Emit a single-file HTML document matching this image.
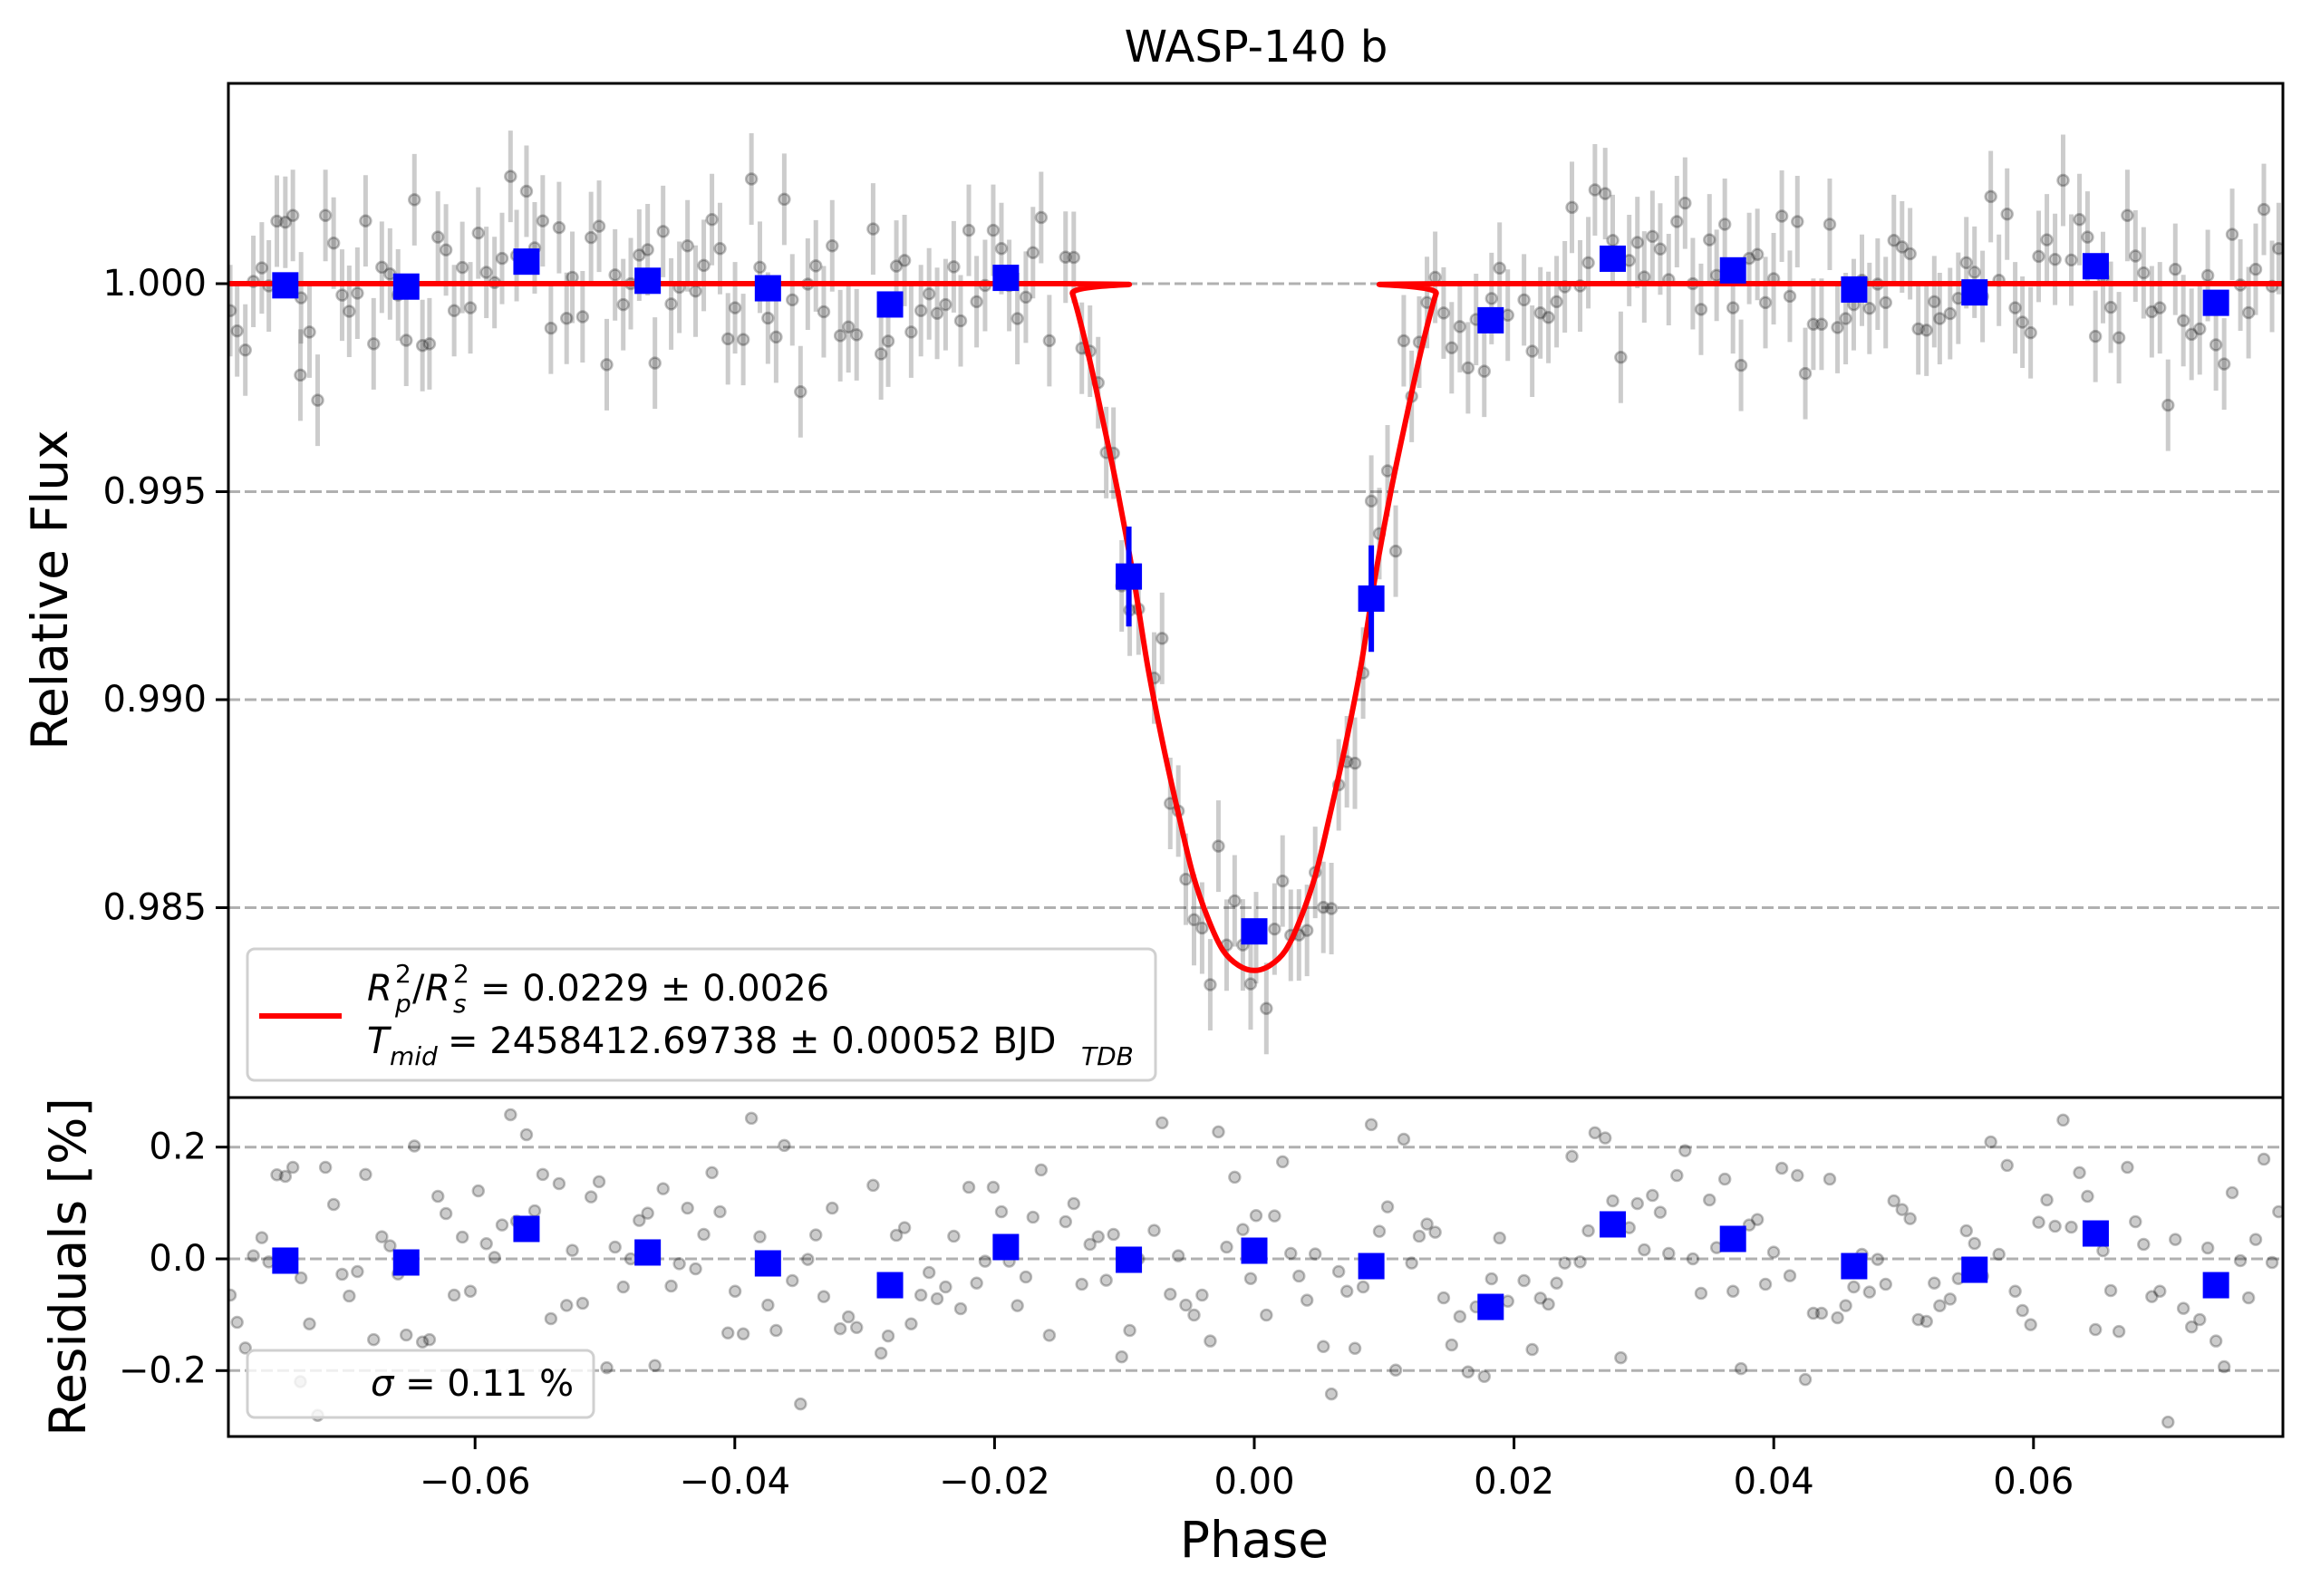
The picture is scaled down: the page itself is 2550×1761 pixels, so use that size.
<!DOCTYPE html>
<html><head><meta charset="utf-8"><title>WASP-140 b</title>
<style>html,body{margin:0;padding:0;background:#fff;}svg{display:block;font-family:"DejaVu Sans","Liberation Sans",sans-serif;}</style>
</head><body>
<svg id="fig" xmlns="http://www.w3.org/2000/svg" width="2550" height="1761" viewBox="0 0 2550 1761">
<rect x="0" y="0" width="2550" height="1761" fill="#fff"/>
<defs>
<clipPath id="clipTop"><rect x="252" y="92" width="2267" height="1119"/></clipPath>
<clipPath id="clipRes"><rect x="252" y="1211" width="2267" height="374"/></clipPath>
</defs>
<text x="1386" y="68" font-size="48" text-anchor="middle">WASP-140 b</text>
<g id="gridTop"></g>
<g id="gridRes"></g>
<g id="dataTop" clip-path="url(#clipTop)"></g>
<g id="dataRes" clip-path="url(#clipRes)"></g>
<g id="axes"></g>
<g>
<rect x="273" y="1047" width="1002" height="145" rx="8" fill="rgba(255,255,255,0.8)" stroke="#d0d0d0" stroke-width="3"/>
<line x1="286" y1="1121" x2="377" y2="1121" stroke="#ff0000" stroke-width="6"/>
<g font-size="40">
<text x="405" y="1104" font-style="italic">R</text>
<text x="436" y="1084" font-size="28">2</text>
<text x="436" y="1117" font-size="28" font-style="italic">p</text>
<text x="455" y="1104">/</text>
<text x="469" y="1104" font-style="italic">R</text>
<text x="500" y="1084" font-size="28">2</text>
<text x="500" y="1117" font-size="28" font-style="italic">s</text>
<text x="530" y="1104">= 0.0229 ± 0.0026</text>
</g>
<g font-size="40">
<text x="405" y="1162" font-style="italic">T</text>
<text x="430" y="1175" font-size="28" font-style="italic">mid</text>
<text x="494" y="1162">= 2458412.69738 ± 0.00052 BJD</text>
<text x="1193" y="1175" font-size="28" font-style="italic">TDB</text>
</g>
</g>
<g>
<rect x="273" y="1490" width="382" height="74" rx="8" fill="rgba(255,255,255,0.8)" stroke="#d0d0d0" stroke-width="3"/>
<text x="409" y="1540" font-size="40"><tspan font-style="italic">σ</tspan> = 0.11 %</text>
</g>
<text x="1384" y="1718" font-size="55" text-anchor="middle">Phase</text>
<text x="0" y="0" font-size="55" text-anchor="middle" dominant-baseline="central" transform="translate(55,651) rotate(-90)">Relative Flux</text>
<text x="0" y="0" font-size="55" text-anchor="middle" dominant-baseline="central" transform="translate(75,1398) rotate(-90)">Residuals [%]</text>
</svg>
<script>
const resPhase=[-0.07885,-0.07832,-0.07769,-0.07707,-0.07642,-0.07588,-0.07526,-0.07461,-0.07403,-0.07345,-0.07340,-0.07275,-0.07212,-0.07152,-0.07089,-0.07024,-0.06969,-0.06906,-0.06843,-0.06781,-0.06718,-0.06655,-0.06593,-0.06530,-0.06467,-0.06405,-0.06351,-0.06286,-0.06224,-0.06161,-0.06098,-0.06036,-0.05975,-0.05913,-0.05850,-0.05792,-0.05727,-0.05680,-0.05604,-0.05541,-0.05479,-0.05416,-0.05353,-0.05295,-0.05251,
-0.05172,-0.05107,-0.05045,-0.04986,-0.04922,-0.04859,-0.04801,-0.04736,-0.04671,-0.04615,-0.04552,-0.04490,-0.04427,-0.04364,-0.04302,-0.04239,-0.04176,-0.04114,-0.04053,-0.03998,-0.03935,-0.03872,-0.03807,-0.03745,-0.03682,-0.03619,-0.03557,-0.03494,-0.03438,-0.03376,-0.03315,-0.03250,-0.03188,-0.03125,-0.03062,-0.02935,-0.02874,-0.02819,-0.02756,-0.02693,-0.02642,
-0.02567,-0.02504,-0.02442,-0.02377,-0.02314,-0.02261,-0.02198,-0.02138,-0.02073,-0.02010,-0.01947,-0.01887,-0.01824,-0.01759,-0.01704,-0.01641,-0.01578,-0.01453,-0.01390,-0.01328,-0.01265,-0.01202,-0.01140,-0.01084,-0.01021,-0.00959,-0.00891,-0.00771,-0.00710,-0.00647,-0.00585,-0.00527,-0.00464,-0.00402,-0.00339,-0.00276,-0.00213,-0.00151,-0.00088,-0.00028,0.00014,
0.00093,0.00156,0.00218,0.00281,0.00344,0.00406,0.00469,0.00532,0.00594,0.00650,0.00713,0.00775,0.00838,0.00901,0.00963,0.01026,0.01089,0.01151,0.01212,0.01270,0.01330,0.01393,0.01458,0.01520,0.01583,0.01646,0.01708,0.01771,0.01827,0.01889,0.01952,0.02077,0.02140,0.02203,0.02265,0.02328,0.02391,0.02446,0.02509,0.02572,0.02623,
0.02702,0.02760,0.02822,0.02887,0.02950,0.03003,0.03066,0.03126,0.03191,0.03254,0.03317,0.03377,0.03440,0.03505,0.03560,0.03623,0.03686,0.03748,0.03811,0.03874,0.03936,0.03999,0.04062,0.04124,0.04182,0.04243,0.04305,0.04368,0.04431,0.04491,0.04554,0.04616,0.04679,0.04737,0.04800,0.04862,0.04925,0.04988,0.05050,0.05113,0.05176,0.05236,0.05278,
0.05358,0.05421,0.05483,0.05546,0.05608,0.05671,0.05734,0.05797,0.05859,0.05915,0.05978,0.06040,0.06103,0.06166,0.06228,0.06291,0.06354,0.06416,0.06477,0.06535,0.06595,0.06658,0.06723,0.06785,0.06848,0.06911,0.06973,0.07036,0.07092,0.07154,0.07217,0.07280,0.07342,0.07405,0.07468,0.07530,0.07593,0.07656,0.07711,0.07774,0.07837,0.07888];
const resValue=[-0.0649,-0.1136,-0.1596,0.0054,0.0379,-0.0054,0.1504,0.1477,0.1639,-0.2197,-0.0341,-0.1163,-0.2802,0.1639,0.0974,-0.0276,-0.0665,-0.0228,0.1510,-0.1445,0.0395,0.0233,-0.0271,-0.1363,0.2019,-0.1488,-0.1445,0.1120,0.0811,-0.0649,0.0390,-0.0579,0.1217,0.0271,0.0027,0.0606,0.2580,0.0676,0.2223,0.0860,0.1510,-0.1071,0.1347,-0.0833,0.0152,
-0.0795,0.1109,0.1380,-0.1948,0.0211,-0.0503,0.0000,0.0687,0.0817,-0.1910,0.1255,-0.0487,-0.0087,0.0909,-0.0179,0.0438,0.1542,0.0844,-0.1326,-0.0579,-0.1342,0.2516,0.0395,-0.0828,-0.1282,0.2029,-0.0390,-0.2597,-0.0011,0.0427,-0.0676,0.0909,-0.1250,-0.1039,-0.1228,0.1315,-0.1688,-0.1380,0.0422,0.0557,-0.1163,
-0.0649,-0.0244,-0.0714,-0.0503,0.0406,-0.0893,0.1282,-0.0433,-0.0043,0.1282,0.0844,-0.0043,-0.0838,-0.0325,0.0746,0.1591,-0.1369,0.0665,0.0990,-0.0455,0.0260,0.0395,-0.0384,0.0438,-0.1753,-0.1282,0.0000,0.0509,0.2435,-0.0633,0.0054,-0.0828,-0.1006,-0.0649,-0.1471,0.2272,0.0211,0.1461,0.0525,-0.0352,0.0774,
-0.1006,0.0768,0.1737,0.0097,-0.0308,-0.0741,0.0087,-0.1569,-0.2418,-0.0227,-0.0579,-0.1602,-0.0503,0.2402,0.0492,0.0930,-0.1991,0.2142,-0.0076,0.0406,0.0622,0.0476,-0.0698,-0.1541,-0.1033,-0.2023,-0.0860,-0.2105,-0.0357,0.0373,-0.0758,-0.0390,-0.1623,-0.0703,-0.0812,-0.0433,-0.0076,0.1834,-0.0054,0.0503,0.2256,
0.2164,0.1039,-0.1770,0.0557,0.0990,0.0162,0.1136,0.0833,0.0097,0.1493,0.1937,0.0000,-0.0617,0.1055,0.0200,0.1428,-0.0579,-0.1964,0.0606,0.0703,-0.0455,0.0119,0.1623,-0.0303,0.1493,-0.2159,-0.0974,-0.0974,0.1428,-0.1055,-0.0838,-0.0503,0.0081,-0.0595,-0.0011,-0.0455,0.1039,0.0882,0.0720,-0.1087,-0.1120,-0.0433,-0.0839,
-0.0720,-0.0352,0.0503,0.0276,-0.0308,0.2093,0.0081,0.1672,-0.0579,-0.0925,-0.1179,0.0655,0.1055,0.0584,0.2483,0.0568,0.1542,0.1120,-0.1266,0.0146,-0.0568,-0.1299,0.1639,0.0665,0.0260,-0.0676,-0.0579,-0.2921,0.0346,-0.0887,-0.1218,-0.1087,0.0195,-0.1471,-0.1931,0.1185,-0.0032,-0.0698,0.0346,0.1785,-0.0065,0.0844];
const fluxErr=0.0011;
const binPhase=[-0.07461,-0.06530,-0.05604,-0.04671,-0.03745,-0.02805,-0.01913,-0.00966,0.00000,0.00901,0.01820,0.02760,0.03686,0.04619,0.05546,0.06479,0.07405];
const binFlux=[0.99996,0.99993,1.00053,1.00007,0.99989,0.99950,1.00014,0.99296,0.98443,0.99243,0.99912,1.00060,1.00032,0.99986,0.99979,1.00042,0.99954];
const binFluxErr=[0.00012,0.00012,0.00012,0.00012,0.00012,0.00012,0.00012,0.00120,0.00012,0.00128,0.00012,0.00012,0.00012,0.00012,0.00012,0.00012,0.00012];
const binRes=[-0.0032,-0.0065,0.0536,0.0114,-0.0081,-0.0471,0.0211,-0.0016,0.0146,-0.0130,-0.0860,0.0617,0.0357,-0.0130,-0.0195,0.0454,-0.0471];
const modelPhase=[-0.0800,-0.0146,-0.0140,-0.0128,-0.0117,-0.0105,-0.0093,-0.0082,-0.0070,-0.0058,-0.0047,-0.0035,-0.0024,-0.0012,0.0000,0.0012,0.0024,0.0035,0.0047,0.0058,0.0070,0.0082,0.0093,0.0105,0.0117,0.0128,0.0140,0.0146,0.0800];
const modelFlux=[1.00000,1.00000,0.99976,0.99833,0.99677,0.99498,0.99294,0.99079,0.98888,0.98720,0.98577,0.98469,0.98397,0.98361,0.98349,0.98361,0.98397,0.98469,0.98577,0.98720,0.98888,0.99079,0.99294,0.99498,0.99677,0.99833,0.99976,1.00000,1.00000];
const xTicks=[-0.06,-0.04,-0.02,0.00,0.02,0.04,0.06];
const xTickLabels=["\u22120.06","\u22120.04","\u22120.02","0.00","0.02","0.04","0.06"];
const yTicksTop=[1.000,0.995,0.990,0.985];
const yTickLabelsTop=["1.000","0.995","0.990","0.985"];
const yTicksRes=[0.2,0.0,-0.2];
const yTickLabelsRes=["0.2","0.0","\u22120.2"];

const NS="http://www.w3.org/2000/svg";
const L=252,R=2519,T=92,MID=1211,B=1585;
function xs(p){return 1384+p*14330;}
function yTop(f){return 313-(f-1)*45900;}
function yRes(r){return 1389-r*616.5;}
function modelAt(p){
  if(p<=modelPhase[0])return modelFlux[0];
  for(let i=1;i<modelPhase.length;i++){
    if(p<=modelPhase[i]){const t=(p-modelPhase[i-1])/(modelPhase[i]-modelPhase[i-1]);return modelFlux[i-1]+t*(modelFlux[i]-modelFlux[i-1]);}
  }
  return modelFlux[modelFlux.length-1];
}
function mk(tag,attrs,parent){const e=document.createElementNS(NS,tag);for(const k in attrs)e.setAttribute(k,attrs[k]);parent.appendChild(e);return e;}

const gT=document.getElementById('gridTop'),gR=document.getElementById('gridRes');
const dT=document.getElementById('dataTop'),dR=document.getElementById('dataRes');
const ax=document.getElementById('axes');

yTicksTop.forEach((v,i)=>{
  const y=yTop(v);
  const g=mk('line',{x1:L,x2:R,y1:y,y2:y,stroke:'#b0b0b0','stroke-width':3,'stroke-dasharray':'13 5'},gT);
  
  
  const t=mk('line',{x1:L-14,x2:L,y1:y,y2:y,stroke:'#000','stroke-width':3},ax);
  
  
  const lb=mk('text',{x:L-24,y:y,'font-size':40,'text-anchor':'end','dominant-baseline':'central'},ax);
  lb.textContent=yTickLabelsTop[i];
  
  
});
yTicksRes.forEach((v,i)=>{
  const y=yRes(v);
  const g=mk('line',{x1:L,x2:R,y1:y,y2:y,stroke:'#b0b0b0','stroke-width':3,'stroke-dasharray':'13 5'},gR);
  
  
  const t=mk('line',{x1:L-14,x2:L,y1:y,y2:y,stroke:'#000','stroke-width':3},ax);
  
  
  const lb=mk('text',{x:L-24,y:y,'font-size':40,'text-anchor':'end','dominant-baseline':'central'},ax);
  lb.textContent=yTickLabelsRes[i];
  
  
});
xTicks.forEach((v,i)=>{
  const x=xs(v);
  const t=mk('line',{x1:x,x2:x,y1:B,y2:B+14,stroke:'#000','stroke-width':3},ax);
  
  
  const lb=mk('text',{x:x,y:1648,'font-size':40,'text-anchor':'middle'},ax);
  lb.textContent=xTickLabels[i];
  
  
});

// gray data points (flux = model + residual)
resPhase.forEach((p,i)=>{
  const f=modelAt(p)+resValue[i]/100;
  const x=xs(p);
  const eb=mk('line',{x1:x,x2:x,y1:yTop(f+fluxErr),y2:yTop(f-fluxErr),stroke:'rgba(0,0,0,0.2)','stroke-width':5},dT);
  
  
});
resPhase.forEach((p,i)=>{
  const f=modelAt(p)+resValue[i]/100;
  const c=mk('circle',{cx:xs(p),cy:yTop(f),r:6,fill:'rgba(0,0,0,0.2)',stroke:'rgba(0,0,0,0.25)','stroke-width':2.5},dT);
  
  
  const c2=mk('circle',{cx:xs(p),cy:yRes(resValue[i]),r:6,fill:'rgba(0,0,0,0.2)',stroke:'rgba(0,0,0,0.25)','stroke-width':2.5},dR);
  
  
});

// model curve (catmull-rom smoothing)
(function(){
  const pts=modelPhase.map((p,i)=>[xs(p),yTop(modelFlux[i])]);
  let d='M'+pts[0][0]+','+pts[0][1];
  for(let i=0;i<pts.length-1;i++){
    const p0=pts[Math.max(0,i-1)],p1=pts[i],p2=pts[i+1],p3=pts[Math.min(pts.length-1,i+2)];
    const lim=(i===0||i===pts.length-2);
    const k=lim?0:1/6;
    const c1=[p1[0]+(p2[0]-p0[0])*k,p1[1]+(p2[1]-p0[1])*k];
    const c2=[p2[0]-(p3[0]-p1[0])*k,p2[1]-(p3[1]-p1[1])*k];
    d+=' C'+c1[0]+','+c1[1]+' '+c2[0]+','+c2[1]+' '+p2[0]+','+p2[1];
  }
  const m=mk('path',{d:d,fill:'none',stroke:'#ff0000','stroke-width':6,'stroke-linejoin':'round'},dT);
  
  
})();

// binned points
binPhase.forEach((p,i)=>{
  const x=xs(p),y=yTop(binFlux[i]);
  const e=mk('line',{x1:x,x2:x,y1:yTop(binFlux[i]+binFluxErr[i]),y2:yTop(binFlux[i]-binFluxErr[i]),stroke:'#0000ff','stroke-width':6},dT);
  
  
  const s=mk('rect',{x:x-14.5,y:y-14.5,width:29,height:29,fill:'#0000ff'},dT);
  
  
  const yr=yRes(binRes[i]);
  const s2=mk('rect',{x:x-14.5,y:yr-14.5,width:29,height:29,fill:'#0000ff'},dR);
  
  
});

// frames
const f1=mk('rect',{x:L,y:T,width:R-L,height:MID-T,fill:'none',stroke:'#000','stroke-width':3},ax);


const f2=mk('rect',{x:L,y:MID,width:R-L,height:B-MID,fill:'none',stroke:'#000','stroke-width':3},ax);


</script>
</body></html>
